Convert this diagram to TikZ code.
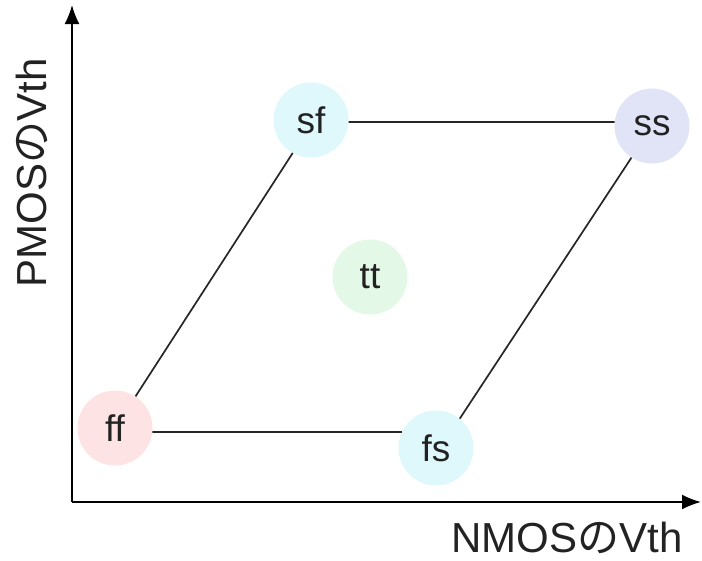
\documentclass[tikz,border=0pt]{standalone}
\usepackage{fontspec}
\setmainfont{Liberation Sans}
\newfontfamily\jpfont{Noto Sans CJK JP}
\usetikzlibrary{arrows.meta}
\definecolor{ffrot}{HTML}{FDE3E4}
\definecolor{sfcyan}{HTML}{DFF8FB}
\definecolor{sslila}{HTML}{E0E4F6}
\definecolor{ttgruen}{HTML}{E3F8E6}
\definecolor{schrift}{HTML}{222222}
\begin{document}
\begin{tikzpicture}[x=1pt,y=-1pt,
		ecke/.style={circle,minimum size=75pt,inner sep=0pt,text=schrift,
			font=\fontsize{37}{37}\selectfont},
		achse/.style={line width=1.8pt,-{Latex[length=19pt,width=15pt]}},
		kante/.style={line width=1.7pt,draw=black!85},
		titel/.style={inner sep=0pt,text=schrift,font=\fontsize{42}{42}\selectfont}]
		\useasboundingbox (0,0) rectangle (702,560);
		% Achsen
		\coordinate (o) at (72,502);
		\coordinate (xende) at (701,502);
		\coordinate (yende) at (72,5);
		\draw[achse] (o) -- (xende);
		\draw[achse] (o) -- (yende);
		% Ecken
		\node[ecke,fill=ffrot] (ff) at (115,428) {ff};
		\node[ecke,fill=sfcyan] (sf) at (311,120) {sf};
		\node[ecke,fill=sslila] (ss) at (652,126) {ss};
		\node[ecke,fill=ttgruen] (tt) at (370,277) {tt};
		\node[ecke,fill=sfcyan] (fs) at (436,448) {fs};
		% Kanten
		\draw[kante] (ff.57) -- (sf.241);
		\draw[kante] (sf.-3) -- (ss.174);
		\draw[kante] (fs.51) -- (ss.237);
		\draw[kante] (ff.-6) -- (fs.155);
		% Beschriftungen
		\node[titel] (xname) at (567,538) {NMOS{\jpfont の}Vth};
		\node[titel,rotate=90] (yname) at (32,173) {PMOS{\jpfont の}Vth};
	\end{tikzpicture}
\end{document}
